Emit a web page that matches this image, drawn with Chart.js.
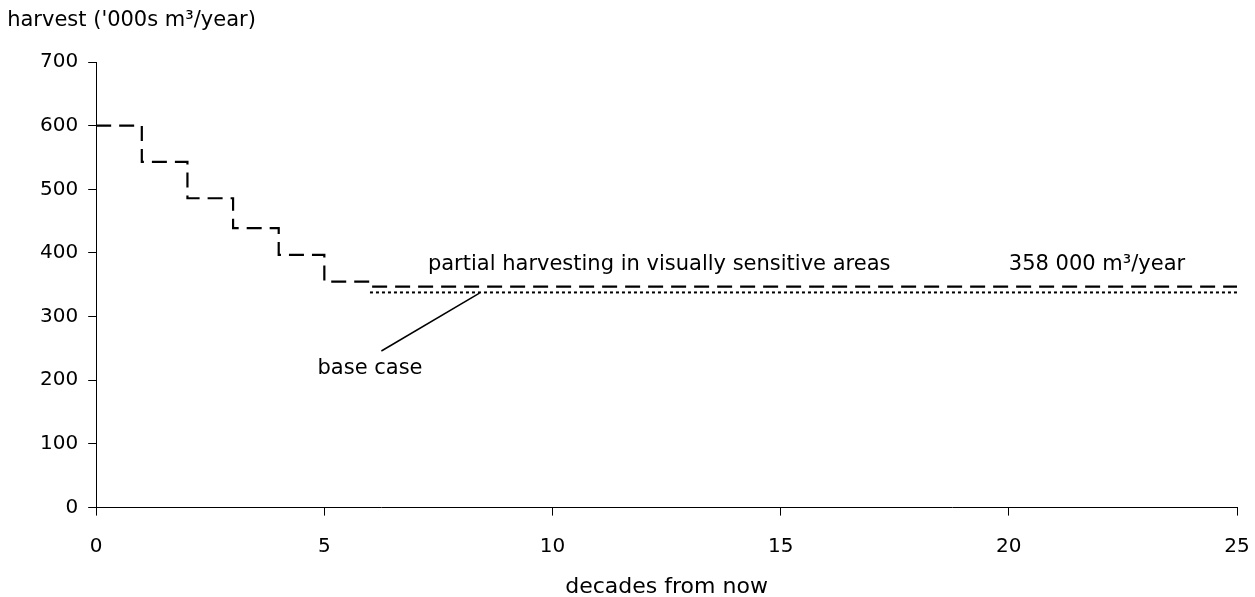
<!DOCTYPE html>
<html>
<head>
<meta charset="utf-8">
<script src="https://cdn.jsdelivr.net/npm/chart.js@4/dist/chart.umd.min.js"></script>
<style>
  html, body { margin: 0; padding: 0; background: #fff; }
  #wrap { width: 1255px; height: 597px; }
</style>
</head>
<body>
<div id="wrap"><canvas id="harvestchart"></canvas></div>
<script>
// harvest steps, decades from now
const decades = [0, 1, 2, 3, 4, 5, 6, 25];
const partialHarvest = [600, 543, 486, 439, 397, 355, 347, 347];
const baseDecades = [6, 25];
const baseCase = [338, 338];
// pointer line from the "base case" label to the line
const leaderX = [6.25, 8.4];
const leaderY = [246, 337];
const xTicks = [0, 5, 10, 15, 20, 25];
const yTicks = [0, 100, 200, 300, 400, 500, 600, 700];

// labels placed in data coordinates
const notes = [
  { text: "partial harvesting in visually sensitive areas", x: 7.27, y: 382 },
  { text: "358 000 m\u00b3/year", x: 20.0, y: 382 },
  { text: "base case", x: 4.85, y: 218 }
];

var FONT = "'DejaVu Sans', sans-serif";
Chart.defaults.font.family = FONT;
Chart.defaults.font.size = 20;
Chart.defaults.color = '#000';

function toPoints(xs, ys) {
  return xs.map((x, i) => ({ x: x, y: ys[i] }));
}

var textPlugin = {
  id: 'texts',
  afterDraw(chart) {
    var ctx = chart.ctx;
    var xs = chart.scales.x, ys = chart.scales.y;
    ctx.save();
    ctx.font = "21px " + FONT;
    ctx.fillStyle = '#000';
    ctx.textBaseline = 'middle';
    ctx.textAlign = 'left';
    notes.forEach(n => {
      ctx.fillText(n.text, xs.getPixelForValue(n.x), ys.getPixelForValue(n.y));
    });
    ctx.fillText("harvest ('000s m\u00b3/year)", chart.chartArea.left - 89, 21);
    ctx.restore();
  }
};

var data = {
  datasets: [
    {
      label: 'partial harvesting',
      data: toPoints(decades, partialHarvest),
      borderColor: '#000',
      borderWidth: 2.2,
      borderDash: [15, 8],
      stepped: true,
      pointRadius: 0,
      fill: false
    },
    {
      label: 'base case',
      data: toPoints(baseDecades, baseCase),
      borderColor: '#000',
      borderWidth: 2,
      borderDash: [3, 3],
      pointRadius: 0,
      fill: false
    },
    {
      label: 'leader',
      data: toPoints(leaderX, leaderY),
      borderColor: '#000',
      borderWidth: 1.5,
      pointRadius: 0,
      fill: false
    }
  ]
};

var config = {
  type: 'line',
  data: data,
  options: {
    responsive: true,
    maintainAspectRatio: false,
    animation: false,
    layout: { padding: { top: 62, right: 18, left: 30, bottom: 0 } },
    scales: {
      x: {
        type: 'linear',
        min: 0,
        max: 25,
        afterBuildTicks: axis => { axis.ticks = xTicks.map(v => ({ value: v })); },
        afterFit: axis => { axis.paddingRight = 0; },
        ticks: { padding: 19, maxRotation: 0 },
        grid: { display: true, drawOnChartArea: false, drawTicks: true, tickLength: 8, color: '#000' },
        border: { color: '#000', width: 1 },
        title: { display: true, text: 'decades from now', font: { size: 22 }, padding: { top: -4, bottom: -3 } }
      },
      y: {
        min: 0,
        max: 700,
        afterBuildTicks: axis => { axis.ticks = yTicks.map(v => ({ value: v })); },
        ticks: { padding: 10 },
        grid: { display: true, drawOnChartArea: false, drawTicks: true, tickLength: 8, color: '#000' },
        border: { color: '#000', width: 1 }
      }
    },
    plugins: {
      legend: { display: false },
      tooltip: { enabled: false }
    }
  },
  plugins: [textPlugin]
};

var harvestctx = document.getElementById('harvestchart').getContext('2d');
var harvestchart = new Chart(harvestctx, config);
</script>
</body>
</html>
